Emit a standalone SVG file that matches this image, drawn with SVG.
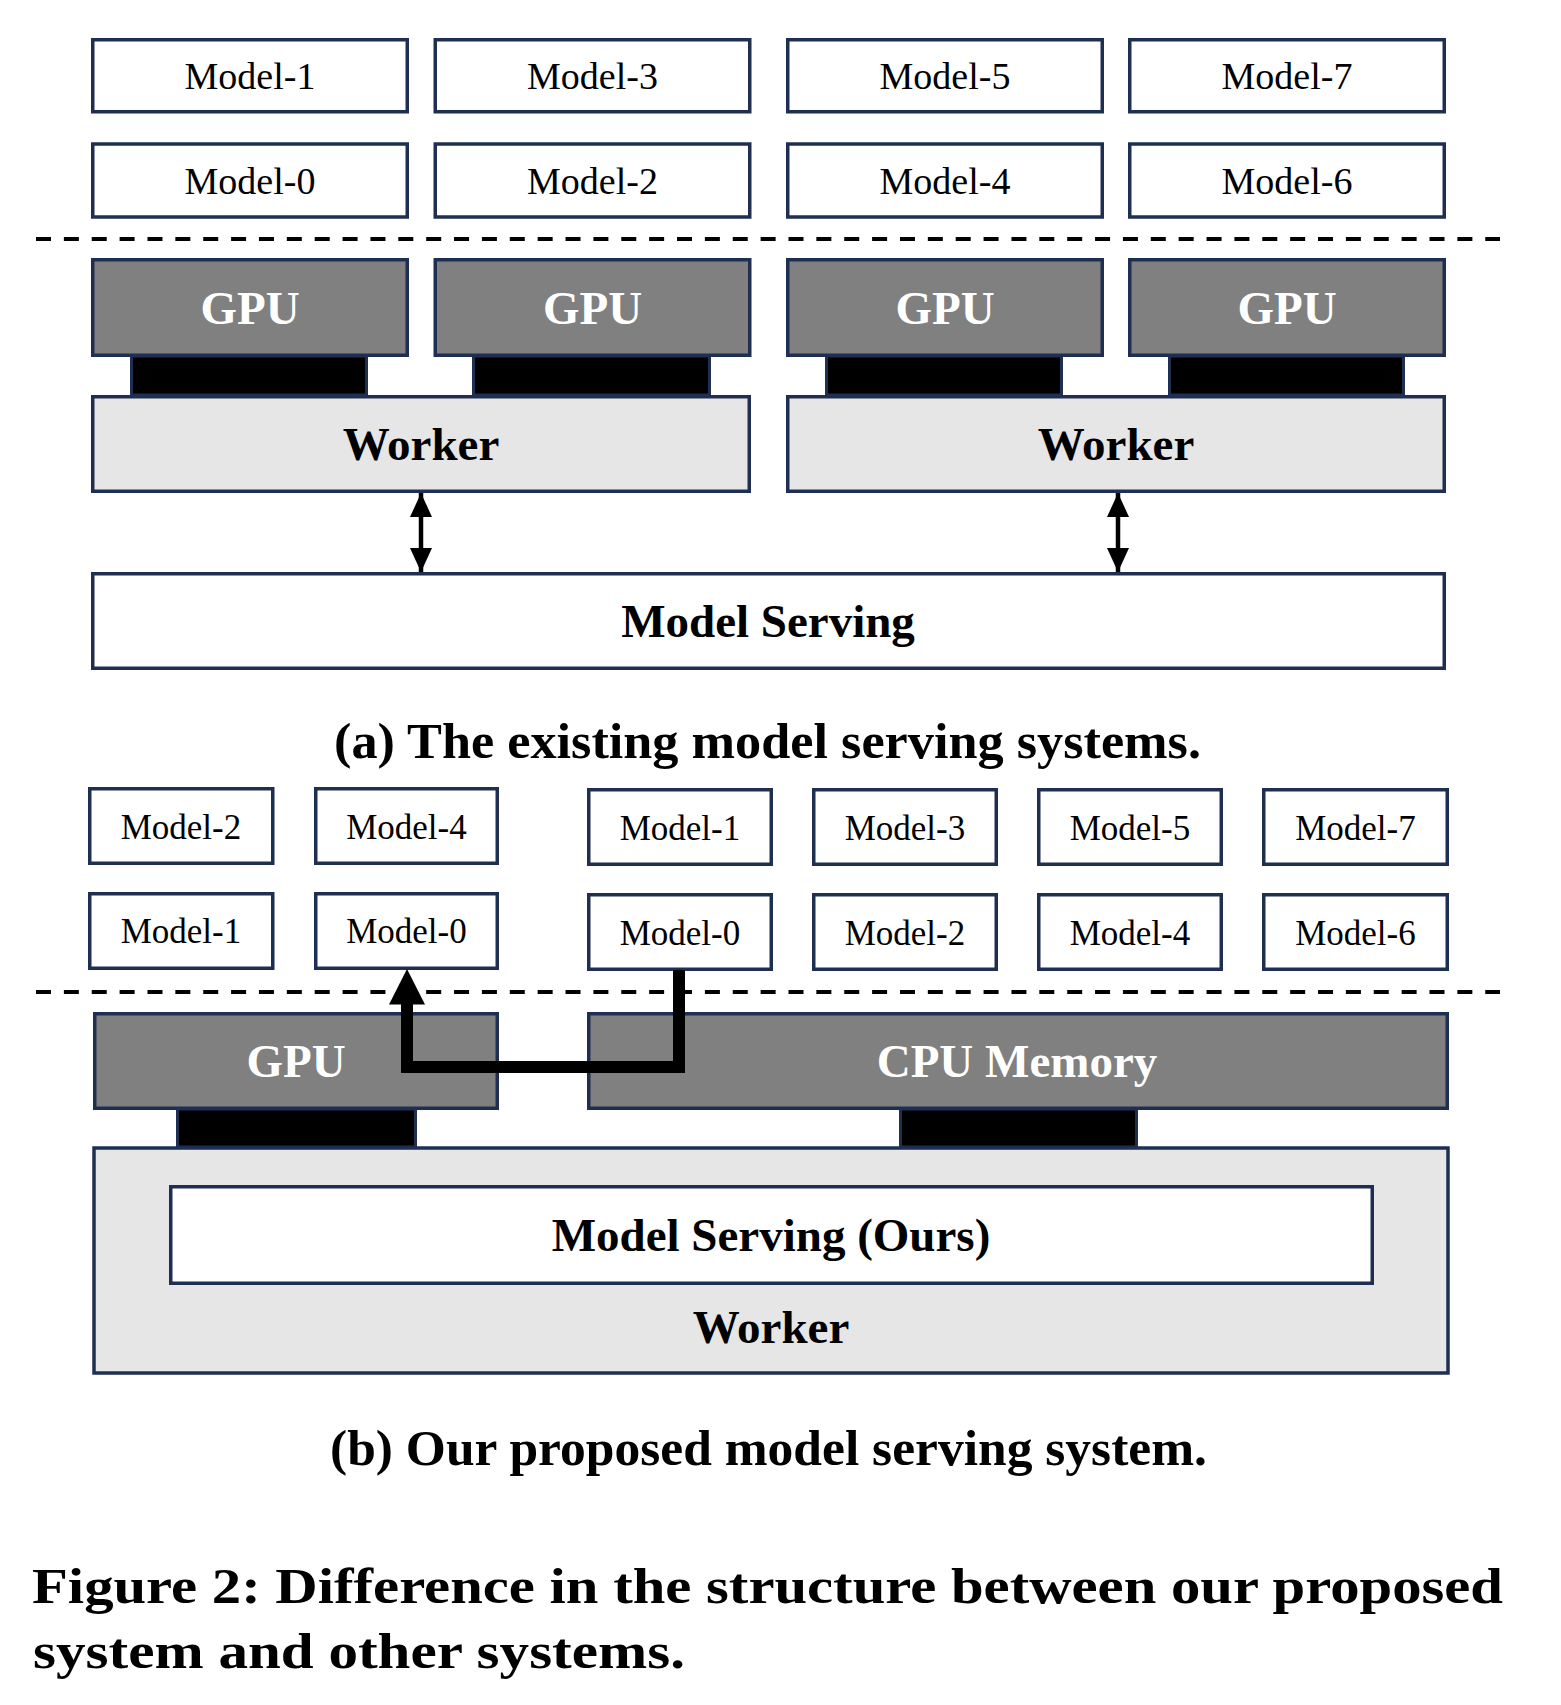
<svg xmlns="http://www.w3.org/2000/svg" width="1561" height="1705" viewBox="0 0 1561 1705">
<style>
.box{fill:#ffffff;stroke:#1e2f52;stroke-width:3.5}
.gpu{fill:#808080;stroke:#1e2f52;stroke-width:3.5}
.wrk{fill:#e6e6e6;stroke:#1e2f52;stroke-width:3.5}
.conn{fill:#000000;stroke:#1e2f52;stroke-width:3}
.t{font-family:"Liberation Serif","Times New Roman",serif;text-anchor:middle}
.m{font-size:38px;fill:#000}
.mb{font-size:35px;fill:#000}
.b{font-size:47px;font-weight:bold;fill:#000}
.w{font-size:47px;font-weight:bold;fill:#ffffff}
.cap{font-family:"Liberation Serif","Times New Roman",serif;font-size:50px;font-weight:bold;fill:#000}
.dash{stroke:#000;stroke-width:4;stroke-dasharray:15 12.87;fill:none}
</style>
<defs>
<marker id="ah" viewBox="0 0 24 22" refX="24" refY="11" markerWidth="24" markerHeight="22" markerUnits="userSpaceOnUse" orient="auto-start-reverse">
<path d="M0,0 L24,11 L0,22 z" fill="#000"/>
</marker>
</defs>
<rect width="1561" height="1705" fill="#ffffff"/>

<!-- Part (a) -->
<g id="a-model-1"><rect class="box" x="92.75" y="39.75" width="314.5" height="72"/><text class="t m" x="250" y="89">Model-1</text></g>
<g id="a-model-3"><rect class="box" x="435.25" y="39.75" width="314.5" height="72"/><text class="t m" x="592.5" y="89">Model-3</text></g>
<g id="a-model-5"><rect class="box" x="787.75" y="39.75" width="314.5" height="72"/><text class="t m" x="945" y="89">Model-5</text></g>
<g id="a-model-7"><rect class="box" x="1129.75" y="39.75" width="314.5" height="72"/><text class="t m" x="1287" y="89">Model-7</text></g>
<g id="a-model-0"><rect class="box" x="92.75" y="144" width="314.5" height="73"/><text class="t m" x="250" y="194">Model-0</text></g>
<g id="a-model-2"><rect class="box" x="435.25" y="144" width="314.5" height="73"/><text class="t m" x="592.5" y="194">Model-2</text></g>
<g id="a-model-4"><rect class="box" x="787.75" y="144" width="314.5" height="73"/><text class="t m" x="945" y="194">Model-4</text></g>
<g id="a-model-6"><rect class="box" x="1129.75" y="144" width="314.5" height="73"/><text class="t m" x="1287" y="194">Model-6</text></g>

<line id="a-divider" class="dash" x1="36" y1="239" x2="1500" y2="239"/>

<g id="a-links">
<rect class="conn" x="131.5" y="356" width="235" height="39"/>
<rect class="conn" x="473.5" y="356" width="236" height="39"/>
<rect class="conn" x="826.5" y="356" width="235" height="39"/>
<rect class="conn" x="1169.5" y="356" width="234" height="39"/>
</g>

<g id="a-gpu-1"><rect class="gpu" x="92.75" y="259.75" width="314.5" height="95.5"/><text class="t w" x="250" y="324">GPU</text></g>
<g id="a-gpu-2"><rect class="gpu" x="435.25" y="259.75" width="314.5" height="95.5"/><text class="t w" x="592.5" y="324">GPU</text></g>
<g id="a-gpu-3"><rect class="gpu" x="787.75" y="259.75" width="314.5" height="95.5"/><text class="t w" x="945" y="324">GPU</text></g>
<g id="a-gpu-4"><rect class="gpu" x="1129.75" y="259.75" width="314.5" height="95.5"/><text class="t w" x="1287" y="324">GPU</text></g>

<g id="a-worker-1"><rect class="wrk" x="92.75" y="396.75" width="656.5" height="94.5"/><text class="t b" x="421" y="460">Worker</text></g>
<g id="a-worker-2"><rect class="wrk" x="787.75" y="396.75" width="656.5" height="94.5"/><text class="t b" x="1116" y="460">Worker</text></g>

<g id="a-serving"><rect class="box" x="92.75" y="573.75" width="1351.5" height="94.5"/><text class="t b" x="768" y="637">Model Serving</text></g>

<g id="connectors">
<line x1="421" y1="493" x2="421" y2="572" stroke="#000" stroke-width="4.5" marker-start="url(#ah)" marker-end="url(#ah)"/>
<line x1="1118" y1="493" x2="1118" y2="572" stroke="#000" stroke-width="4.5" marker-start="url(#ah)" marker-end="url(#ah)"/>
</g>

<text class="cap" x="334" y="758" textLength="867" lengthAdjust="spacingAndGlyphs">(a) The existing model serving systems.</text>

<!-- Part (b) -->
<g id="b-model-2"><rect class="box" x="89.75" y="788.75" width="183" height="74.5"/><text class="t mb" x="181" y="839">Model-2</text></g>
<g id="b-model-4"><rect class="box" x="315.75" y="788.75" width="181.5" height="74.5"/><text class="t mb" x="406.5" y="839">Model-4</text></g>
<g id="b-model-1"><rect class="box" x="588.75" y="789.75" width="182.5" height="74.5"/><text class="t mb" x="680" y="840">Model-1</text></g>
<g id="b-model-3"><rect class="box" x="813.75" y="789.75" width="182.5" height="74.5"/><text class="t mb" x="905" y="840">Model-3</text></g>
<g id="b-model-5"><rect class="box" x="1038.75" y="789.75" width="182.5" height="74.5"/><text class="t mb" x="1130" y="840">Model-5</text></g>
<g id="b-model-7"><rect class="box" x="1263.75" y="789.75" width="183.5" height="74.5"/><text class="t mb" x="1355.5" y="840">Model-7</text></g>
<g id="b-model-1b"><rect class="box" x="89.75" y="893.75" width="183" height="74.5"/><text class="t mb" x="181" y="943">Model-1</text></g>
<g id="b-model-0a"><rect class="box" x="315.75" y="893.75" width="181.5" height="74.5"/><text class="t mb" x="406.5" y="943">Model-0</text></g>
<g id="b-model-0b"><rect class="box" x="588.75" y="894.75" width="182.5" height="74.5"/><text class="t mb" x="680" y="945">Model-0</text></g>
<g id="b-model-2b"><rect class="box" x="813.75" y="894.75" width="182.5" height="74.5"/><text class="t mb" x="905" y="945">Model-2</text></g>
<g id="b-model-4b"><rect class="box" x="1038.75" y="894.75" width="182.5" height="74.5"/><text class="t mb" x="1130" y="945">Model-4</text></g>
<g id="b-model-6"><rect class="box" x="1263.75" y="894.75" width="183.5" height="74.5"/><text class="t mb" x="1355.5" y="945">Model-6</text></g>

<line id="b-divider" class="dash" x1="36" y1="992" x2="1500" y2="992"/>

<g id="b-links">
<rect class="conn" x="177.5" y="1109" width="238" height="38"/>
<rect class="conn" x="900.5" y="1109" width="236" height="38"/>
</g>

<g id="b-gpu"><rect class="gpu" x="94.75" y="1013.75" width="402.5" height="94.5"/><text class="t w" x="296" y="1077">GPU</text></g>
<g id="b-cpu"><rect class="gpu" x="588.75" y="1013.75" width="858.5" height="94.5"/><text class="t w" x="1017" y="1077">CPU Memory</text></g>

<g id="b-worker"><rect class="wrk" x="94" y="1148" width="1354" height="225"/><text class="t b" x="771" y="1343">Worker</text></g>
<g id="b-serving"><rect class="box" x="170.75" y="1186.75" width="1201.5" height="96.5"/><text class="t b" x="771" y="1251">Model Serving (Ours)</text></g>

<g id="b-connectors">
<path d="M679,970 V1067 H407 V1002" fill="none" stroke="#000" stroke-width="12" stroke-linejoin="miter"/>
<polygon points="389,1004.5 425,1004.5 407,969" fill="#000"/>
</g>

<text class="cap" x="330" y="1465" textLength="877" lengthAdjust="spacingAndGlyphs">(b) Our proposed model serving system.</text>

<text class="cap" x="32" y="1603" textLength="1471" lengthAdjust="spacingAndGlyphs">Figure 2: Difference in the structure between our proposed</text>
<text class="cap" x="33" y="1668" textLength="652" lengthAdjust="spacingAndGlyphs">system and other systems.</text>
</svg>
